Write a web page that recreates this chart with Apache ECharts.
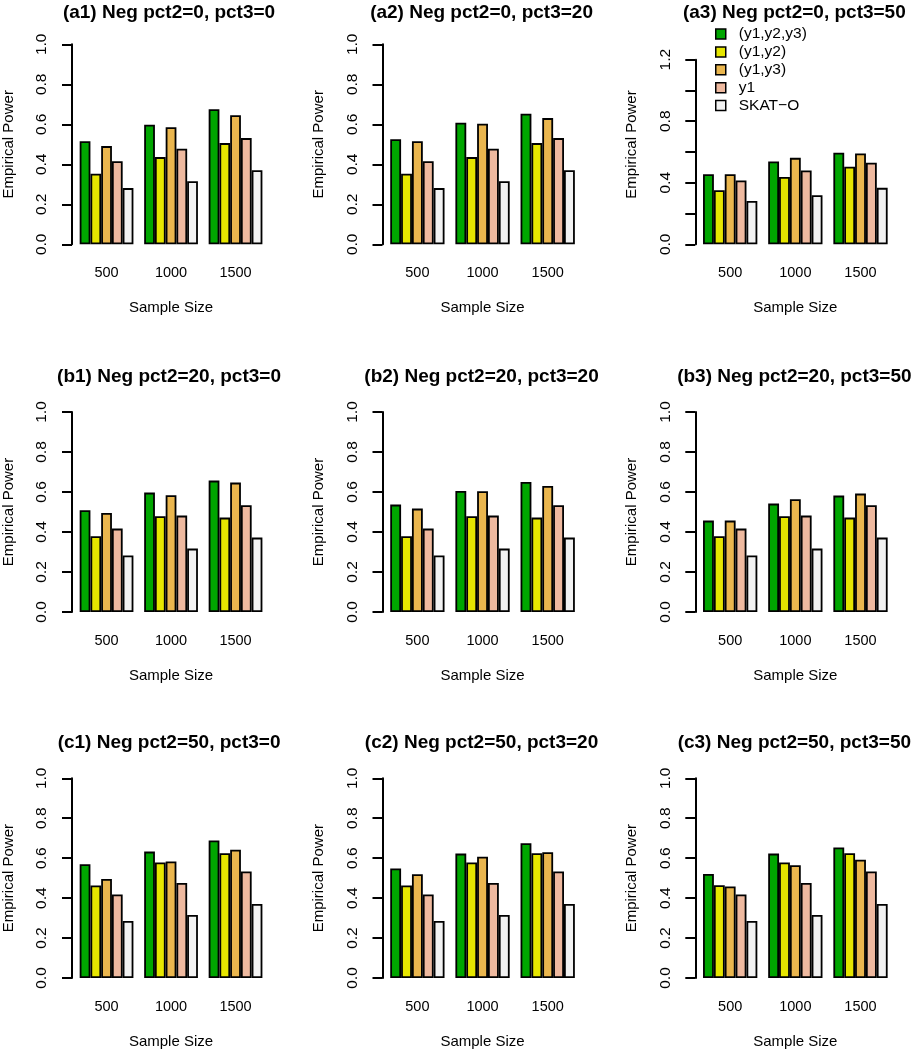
<!DOCTYPE html>
<html><head><meta charset="utf-8">
<script src="https://cdn.jsdelivr.net/npm/echarts@6/dist/echarts.min.js"></script>
<style>html,body{margin:0;padding:0;background:#fff}#c{width:912px;height:1050px}</style>
</head><body><div id="c"></div>
<script>
// ---- data ----
const categories = ['500', '1000', '1500'];
const seriesNames = ['(y1,y2,y3)', '(y1,y2)', '(y1,y3)', 'y1', 'SKAT\u2212O'];
const panelTitles = [
  '(a1) Neg pct2=0, pct3=0', '(a2) Neg pct2=0, pct3=20', '(a3) Neg pct2=0, pct3=50',
  '(b1) Neg pct2=20, pct3=0', '(b2) Neg pct2=20, pct3=20', '(b3) Neg pct2=20, pct3=50',
  '(c1) Neg pct2=50, pct3=0', '(c2) Neg pct2=50, pct3=20', '(c3) Neg pct2=50, pct3=50'
];
const yAxisMax = [1.0, 1.0, 1.2, 1.0, 1.0, 1.0, 1.0, 1.0, 1.0];
// each row = one method, values for sample size 500, 1000, 1500
const a1 = [[0.515, 0.598, 0.675], [0.353, 0.436, 0.506], [0.491, 0.585, 0.645], [0.415, 0.478, 0.531], [0.281, 0.315, 0.370]];
const a2 = [[0.525, 0.608, 0.653], [0.353, 0.436, 0.506], [0.515, 0.603, 0.631], [0.415, 0.478, 0.531], [0.281, 0.315, 0.370]];
const a3 = [[0.456, 0.538, 0.595], [0.352, 0.438, 0.504], [0.456, 0.562, 0.590], [0.415, 0.480, 0.530], [0.282, 0.319, 0.367]];
const b1 = [[0.509, 0.597, 0.657], [0.379, 0.479, 0.472], [0.495, 0.584, 0.647], [0.417, 0.482, 0.534], [0.283, 0.317, 0.372]];
const b2 = [[0.537, 0.605, 0.650], [0.379, 0.479, 0.472], [0.517, 0.604, 0.630], [0.417, 0.482, 0.534], [0.283, 0.317, 0.372]];
const b3 = [[0.457, 0.542, 0.582], [0.379, 0.479, 0.472], [0.457, 0.564, 0.592], [0.417, 0.482, 0.534], [0.283, 0.317, 0.372]];
const c1 = [[0.570, 0.633, 0.689], [0.463, 0.578, 0.625], [0.496, 0.583, 0.642], [0.418, 0.476, 0.533], [0.286, 0.316, 0.371]];
const c2 = [[0.548, 0.623, 0.675], [0.463, 0.578, 0.625], [0.520, 0.607, 0.630], [0.418, 0.476, 0.533], [0.286, 0.316, 0.371]];
const c3 = [[0.521, 0.623, 0.654], [0.465, 0.578, 0.625], [0.458, 0.565, 0.592], [0.418, 0.476, 0.533], [0.286, 0.316, 0.371]];
const panels = [a1, a2, a3, b1, b2, b3, c1, c2, c3];

// ---- styling / layout ----
const seriesColors = ['#00A600', '#E6E600', '#EAB64E', '#EEB99F', '#F2F2F2'];
const FONT = '"Liberation Sans", Arial, Helvetica, sans-serif';
const axisX = [70, 382.5, 695.3];
const zeroY = [244.3, 612, 978.3];
const titleTop = [3.5, 367.5, 733.5];
const unitW = 10.86;

const grid = [], xAxis = [], yAxis = [], series = [], title = [];
for (let p = 0; p < 9; p++) {
  const r = Math.floor(p / 3), c = p % 3;
  const ymax = yAxisMax[p];
  const ppu = ymax > 1 ? 200 / 1.3 : 200;
  const h = ymax * ppu;
  const gl = axisX[c] + 2.3;
  const gw = 18 * unitW;
  grid.push({ left: gl, top: zeroY[r] - h, width: gw, height: h, containLabel: false });
  xAxis.push({
    type: 'category', gridIndex: p, data: categories,
    axisLine: { show: false }, axisTick: { show: false },
    axisLabel: { margin: 21, fontSize: 14.5, color: '#000', fontFamily: FONT },
    name: 'Sample Size', nameLocation: 'middle', nameGap: 56,
    nameTextStyle: { fontSize: 15, color: '#000', fontFamily: FONT }
  });
  yAxis.push({
    type: 'value', gridIndex: p, min: 0, max: ymax, interval: 0.2, offset: 2.3,
    splitLine: { show: false },
    axisLine: { show: true, lineStyle: { color: '#000', width: 2 } },
    axisTick: { show: true, length: 10, lineStyle: { color: '#000', width: 2 } },
    axisLabel: {
      rotate: 90, margin: 22, fontSize: 15.5, color: '#000', fontFamily: FONT,
      formatter: function (v) {
        if (ymax > 1) { const k = Math.round(v / 0.2); return (k % 2 === 0) ? v.toFixed(1) : ''; }
        return v.toFixed(1);
      }
    },
    name: 'Empirical Power', nameLocation: 'middle', nameGap: 56,
    nameTextStyle: { fontSize: 15, color: '#000', fontFamily: FONT, padding: ymax > 1 ? [0, 0, 0, 15] : 0 }
  });
  title.push({
    text: panelTitles[p], left: gl + gw / 2 - 1, top: titleTop[r], textAlign: 'center', padding: 0,
    textStyle: { fontSize: 19, fontWeight: 'bold', color: '#000', fontFamily: FONT }
  });
  for (let s = 0; s < 5; s++) {
    series.push({
      type: 'bar', name: seriesNames[s], xAxisIndex: p, yAxisIndex: p,
      data: panels[p][s], barGap: '0%', barCategoryGap: '16.667%', silent: true,
      itemStyle: { color: seriesColors[s], borderColor: '#000', borderWidth: 1.8 }
    });
  }
}

const chart = echarts.init(document.getElementById('c'), null, { renderer: 'canvas' });
chart.setOption({
  backgroundColor: '#fff',
  animation: false,
  title, grid, xAxis, yAxis, series,
  legend: {
    data: seriesNames, orient: 'vertical', left: 715, top: 26, padding: 0,
    itemWidth: 10, itemHeight: 10, itemGap: 1.9, icon: 'rect', selectedMode: false,
    itemStyle: { borderColor: '#000', borderWidth: 1.5 },
    textStyle: { fontSize: 15.5, color: '#000', fontFamily: FONT, padding: [0, 0, 0, 8] }
  }
});
</script></body></html>
